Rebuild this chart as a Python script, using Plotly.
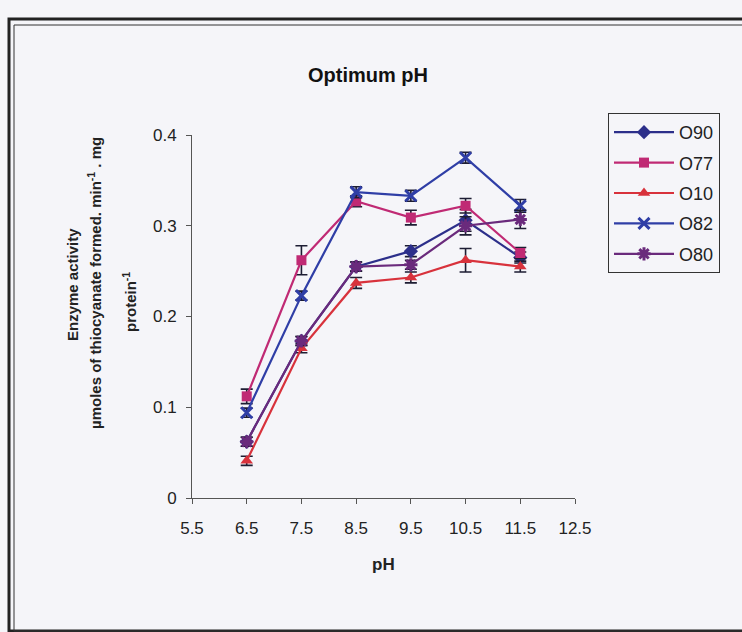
import plotly.graph_objects as go

ph = [6.5, 7.5, 8.5, 9.5, 10.5, 11.5]
series_names = ["O90", "O77", "O10", "O82", "O80"]
o90 = [0.062, 0.173, 0.255, 0.272, 0.306, 0.265]
o77 = [0.112, 0.262, 0.327, 0.309, 0.322, 0.270]
o10 = [0.041, 0.165, 0.237, 0.243, 0.262, 0.255]
o82 = [0.094, 0.223, 0.337, 0.333, 0.375, 0.322]
o80 = [0.062, 0.173, 0.255, 0.257, 0.300, 0.307]
err_o90 = [0.005, 0.005, 0.005, 0.006, 0.012, 0.006]
err_o77 = [0.008, 0.016, 0.006, 0.008, 0.008, 0.006]
err_o10 = [0.005, 0.005, 0.006, 0.006, 0.013, 0.006]
err_o82 = [0.005, 0.005, 0.006, 0.006, 0.006, 0.007]
err_o80 = [0.005, 0.005, 0.005, 0.005, 0.010, 0.010]
x_ticks = [5.5, 6.5, 7.5, 8.5, 9.5, 10.5, 11.5, 12.5]
y_ticks = [0, 0.1, 0.2, 0.3, 0.4]

values = [o90, o77, o10, o82, o80]
errors = [err_o90, err_o77, err_o10, err_o82, err_o80]
colors = ["#2c2f8a", "#c02a74", "#d8323c", "#2f3ea6", "#6a2a7c"]
symbols = ["diamond", "square", "triangle-up", "x-thin", "asterisk"]
msizes = [11, 10, 11, 11, 11]

FONT = "Arial, Liberation Sans, sans-serif"
BG = "#f5f5f9"
TXT = "#222222"

W, H = 742, 632
L, R, T, B = 192, 575, 135, 498


def px(x):
    return (x - L) / (R - L)


def py(y):
    return (B - y) / (B - T)


fig = go.Figure()
for name, v, e, c, s, ms in zip(series_names, values, errors, colors, symbols, msizes):
    marker = dict(symbol=s, size=ms, color=c)
    if s in ("x-thin", "asterisk"):
        marker["line"] = dict(color=c, width=3)
    fig.add_trace(go.Scatter(
        x=ph, y=v, name=name, mode="lines+markers",
        line=dict(color=c, width=2.2),
        marker=marker,
        legendgroup=name,
        error_y=dict(type="data", array=e, visible=True, color="#1d1d33",
                     thickness=1.6, width=6),
    ))

axis_common = dict(showline=True, linecolor="#555555", linewidth=1, ticks="outside",
                   ticklen=5, tickcolor="#555555", showgrid=False, zeroline=False,
                   tickfont=dict(family=FONT, size=17, color=TXT))

fig.update_xaxes(range=[5.5, 12.5], tickvals=x_ticks, ticklabelstandoff=10,
                 ticktext=[f"{t:g}" for t in x_ticks], **axis_common)
fig.update_yaxes(range=[0, 0.4], tickvals=y_ticks, ticklabelstandoff=6,
                 ticktext=[f"{t:g}" for t in y_ticks], **axis_common)

ann_font = dict(family=FONT, size=15, color=TXT)
annotations = [
    dict(text="<b>pH</b>", x=px(383), y=py(564), xref="paper", yref="paper",
         xanchor="center", yanchor="middle", showarrow=False,
         font=dict(family=FONT, size=17, color=TXT)),
    dict(text="<b>Enzyme activity</b>", x=px(72), y=py(285), xref="paper", yref="paper",
         xanchor="center", yanchor="middle", textangle=-90, showarrow=False, font=ann_font),
    dict(text="<b>µmoles of thiocyanate formed. min<sup>-1</sup> . mg</b>", x=px(94), y=py(283),
         xref="paper", yref="paper", xanchor="center", yanchor="middle", textangle=-90,
         showarrow=False, font=ann_font),
    dict(text="<b>protein<sup>-1</sup></b>", x=px(129), y=py(302), xref="paper", yref="paper",
         xanchor="center", yanchor="middle", textangle=-90, showarrow=False, font=ann_font),
]

shapes = [
    dict(type="rect", xref="paper", yref="paper", x0=px(9), x1=px(748), y0=py(631), y1=py(19),
         line=dict(color="#222222", width=3)),
    dict(type="rect", xref="paper", yref="paper", x0=px(14), x1=px(748), y0=py(631), y1=py(25),
         line=dict(color="#333333", width=1)),
]

fig.update_layout(
    width=W, height=H,
    margin=dict(l=L, r=W - R, t=T, b=H - B),
    paper_bgcolor=BG, plot_bgcolor=BG,
    title=dict(text="<b>Optimum pH</b>", x=368 / W, xanchor="center",
               y=1 - 75 / H, yanchor="middle",
               font=dict(family=FONT, size=20, color="#111111")),
    legend=dict(x=px(608), y=py(113), xanchor="left", yanchor="top",
                bordercolor="#333333", borderwidth=1, bgcolor=BG,
                font=dict(family=FONT, size=18, color=TXT),
                itemwidth=60, tracegroupgap=4, traceorder="grouped"),
    annotations=annotations,
    shapes=shapes,
)

fig.write_html("out.html")
